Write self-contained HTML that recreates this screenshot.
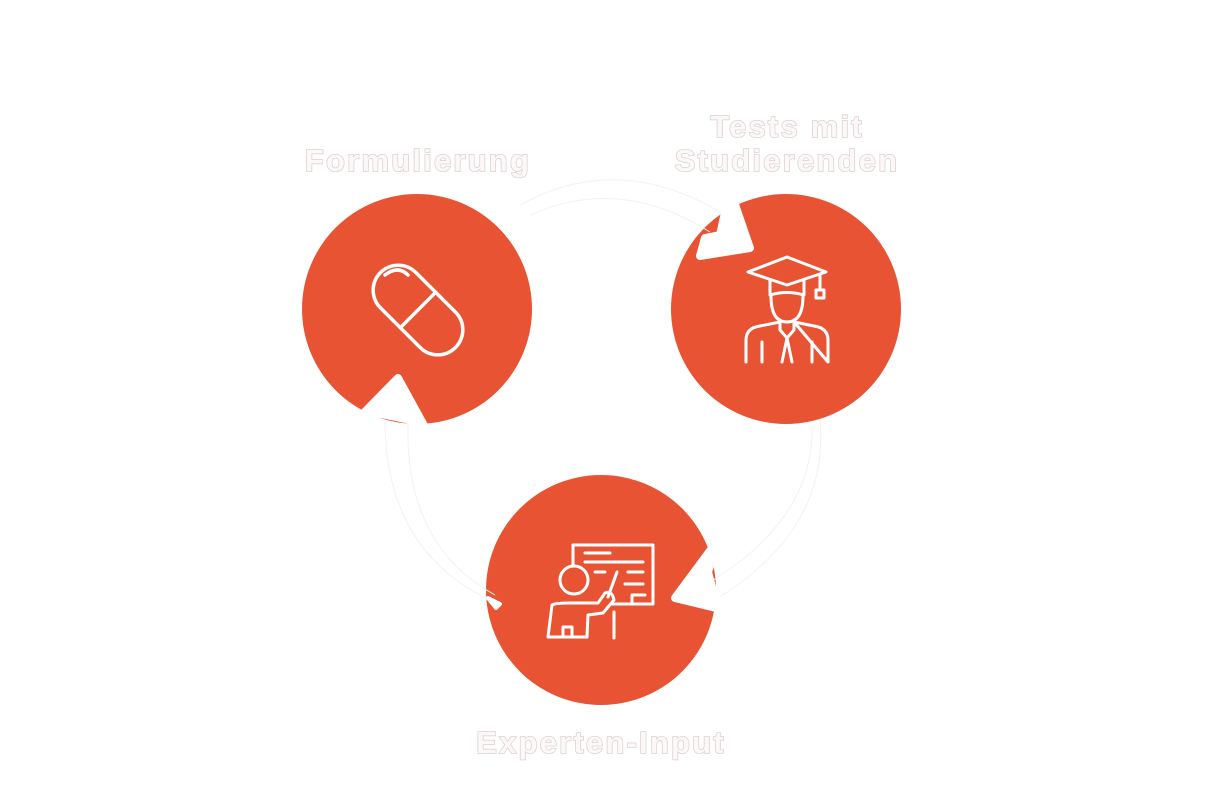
<!DOCTYPE html>
<html><head><style>
html,body{margin:0;padding:0;background:#fff;width:1206px;height:804px;overflow:hidden}
svg{display:block}
text{font-family:"Liberation Sans",sans-serif;font-weight:bold;font-size:31px;letter-spacing:2.2px;fill:#fcf8f8;stroke:#ddd2d2;stroke-width:1.6px;paint-order:stroke;text-anchor:middle}
</style></head><body>
<svg width="1206" height="804" viewBox="0 0 1206 804">
<circle cx="417" cy="309" r="115" fill="#e85433"/>
<circle cx="786" cy="309" r="115" fill="#e85433"/>
<circle cx="601" cy="590" r="115" fill="#e85433"/>
<g fill="none" stroke="#f2f2f2" stroke-width="1">
<path d="M520 205 Q620 150 725 215"/>
<path d="M530 215 Q620 175 710 232"/>
<path d="M820 420 Q830 530 715 600"/>
<path d="M812 425 Q815 520 705 585"/>
<path d="M385 420 Q385 550 490 600"/>
<path d="M408 425 Q405 545 495 595"/>
</g>
<g fill="#fff" stroke="#fff" stroke-linejoin="round" stroke-linecap="round">
<path d="M730 190 L750 248 L700 256 L705 238 L720 235 Z" stroke-width="8"/>
<path d="M352 425 L398 378 L432 440 L410 420 L372 412 Z" stroke-width="8"/>
<path d="M718 540 L675 598 L745 615 L715 598 L708 572 Z" stroke-width="8"/>
<path d="M488 598 L500 604 L496 608 Z" stroke-width="4"/>
</g>
<g fill="none" stroke="#fff" stroke-width="3.5" stroke-linecap="round">
<g transform="rotate(45 418 310)">
<rect x="365" y="285" width="106" height="50" rx="25"/>
<line x1="418" y1="285" x2="418" y2="335"/>
</g>
<path d="M385 275 Q398 265 408 275"/>
</g>
<g fill="none" stroke="#fff" stroke-width="3" stroke-linejoin="round" stroke-linecap="round">
<path d="M748 272 L787 257 L826 272 L787 285 Z"/>
<path d="M770 280 L770 295 Q787 290 804 295 L804 280"/>
<path d="M820 274 L820 290"/><rect x="816" y="290" width="8" height="8"/>
<path d="M771 296 Q771 322 787 322 Q803 322 803 296"/>
<path d="M780 320 L780 330 L787 338 L794 330 L794 320"/>
<path d="M746 362 L746 340 Q746 328 760 326 L780 322 M794 322 L814 326 Q828 328 828 340 L828 362 Z"/>
<path d="M787 338 L782 362 M787 338 L792 362"/>
<path d="M762 342 L762 362 M812 342 L812 362"/>
</g>
<g fill="none" stroke="#fff" stroke-width="3" stroke-linecap="round" stroke-linejoin="round">
<path d="M573 565 L573 545 L653 545 L653 604 L612 604"/>
<line x1="585" y1="553" x2="610" y2="553"/>
<line x1="585" y1="562" x2="643" y2="562"/>
<line x1="595" y1="572" x2="605" y2="572"/>
<line x1="628" y1="572" x2="643" y2="572"/>
<line x1="625" y1="584" x2="643" y2="584"/>
<path d="M632 604 L632 595 L645 595"/>
<circle cx="574" cy="580" r="14"/>
<path d="M617 572 L608 597"/>
<path d="M548 637 L552 605 Q555 603 570 603 L598 603 L605 593 Q612 590 614 600 L603 613 L588 615 L587 637 Z"/>
<path d="M563 637 L563 627 L572 627 L572 637"/>
<line x1="614" y1="612" x2="614" y2="638"/>
</g>
<text x="418" y="171">Formulierung</text>
<text x="787" y="137">Tests mit</text>
<text x="787" y="171">Studierenden</text>
<text x="601" y="753">Experten-Input</text>
</svg>
</body></html>
